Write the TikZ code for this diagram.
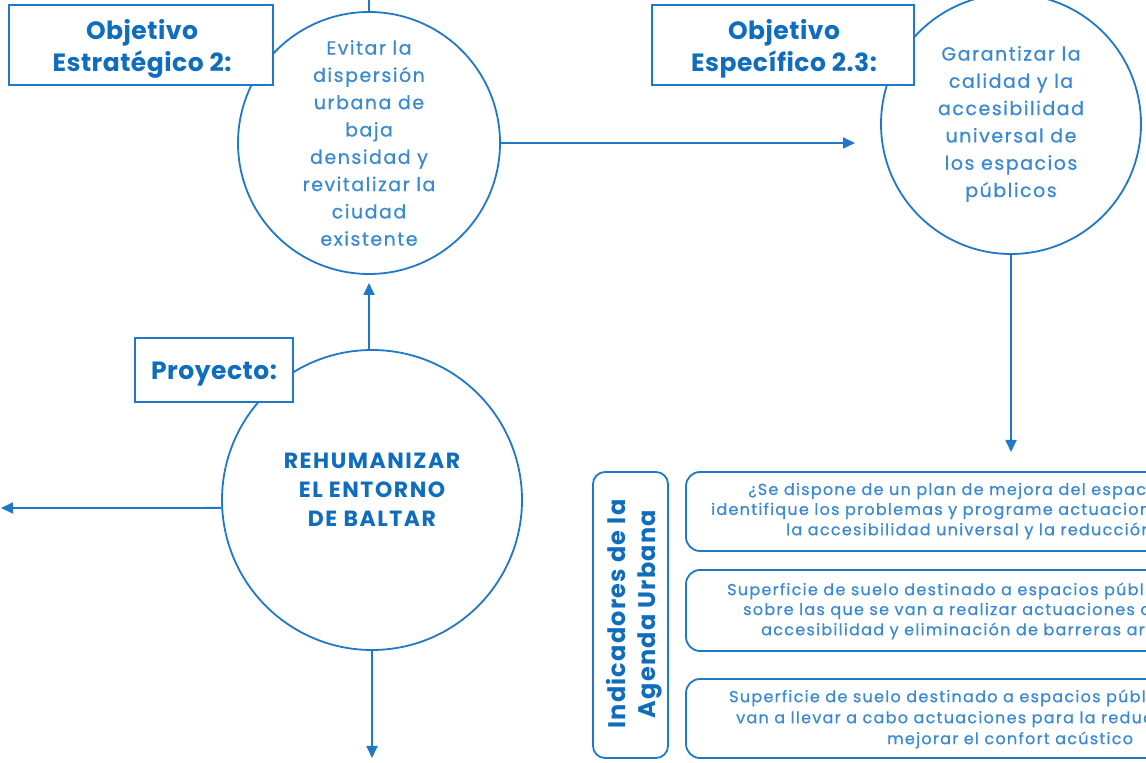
\documentclass[tikz,border=0pt]{standalone}
\usepackage{fontspec}
\setmainfont{Poppins}
\newfontfamily\bodyf{Poppins}[LetterSpace=8,FakeBold=0.6]
\newfontfamily\titlef{Poppins}[LetterSpace=2]
\newfontfamily\capsf{Poppins}[LetterSpace=7]
\newfontfamily\vertf{Poppins}[LetterSpace=5]
\usetikzlibrary{arrows.meta}
\definecolor{lineblue}{HTML}{1F78C8}
\definecolor{textblue}{HTML}{3A8AD2}
\definecolor{titleblue}{HTML}{0F6DBE}
\begin{document}
\begin{tikzpicture}[x=1pt,y=1pt,
  conn/.style={draw=lineblue, line width=1.8pt},
  arr/.style={conn, -{Triangle[length=12pt,width=11pt]}},
  circ/.style={circle, draw=lineblue, line width=1.8pt, fill=white, inner sep=0pt, align=center, text=textblue, font=\bodyf\fontsize{19}{27.3}\selectfont},
  titlebox/.style={rectangle, draw=lineblue, line width=1.8pt, fill=white, inner sep=0pt},
  titletext/.style={align=center, inner sep=0pt, text=titleblue, font=\titlef\bfseries\fontsize{25}{32}\selectfont},
  ibox/.style={rectangle, rounded corners=14pt, draw=lineblue, line width=1.8pt, fill=white, inner sep=0pt},
  itext/.style={anchor=west, inner sep=0pt, text=textblue, font=\bodyf\fontsize{16}{20}\selectfont},
  bigtext/.style={align=center, inner sep=0pt, text=titleblue, font=\capsf\bfseries\fontsize{22}{29}\selectfont},
]
\useasboundingbox (0,0) rectangle (1146,763);
\fill[white] (0,0) rectangle (1146,763);
% circles
\node[circ, minimum size=262pt] (c1) at (369,620) {Evitar la\\dispersión\\urbana de\\baja\\densidad y\\revitalizar la\\ciudad\\existente};
\node[circ, minimum size=260pt] (c2) at (1011,639) {Garantizar la\\calidad y la\\accesibilidad\\universal de\\los espacios\\públicos};
\node[circ, minimum size=300pt] (c3) at (372,263) {};
\node[bigtext] (c3t) at (372,273) {REHUMANIZAR\\EL ENTORNO\\DE BALTAR};
% free ends
\coordinate (topend) at (369,763);
\coordinate (a1end) at (855,620);
\coordinate (a2end) at (1011,311);
\coordinate (a3end) at (369,480);
\coordinate (a4end) at (1,255);
\coordinate (a5end) at (372,5);
% connectors
\draw[conn] (c1.north) -- (topend);
\draw[arr] (c1.east) -- (a1end);
\draw[arr] (c2.south) -- (a2end);
\draw[arr] (c3.north -| a3end) -- (a3end);
\draw[arr] (c3.183) -- (a4end);
\draw[arr] (c3.south) -- (a5end);
% title boxes
\node[titlebox, minimum width=264pt, minimum height=80pt] (t1) at (141,718) {};
\node[titletext] (t1t) at (142,714.5) {Objetivo\\Estratégico 2:};
\node[titlebox, minimum width=262pt, minimum height=80pt] (t2) at (783,718) {};
\node[titletext] (t2t) at (784,714.5) {Objetivo\\Específico 2.3:};
\node[titlebox, minimum width=158pt, minimum height=64pt] (t3) at (214,393) {};
\node[titletext] (t3t) at (214,389) {Proyecto:};
% indicators
\node[ibox, rounded corners=12pt, minimum width=75pt, minimum height=286pt] (vb) at (630.5,148) {};
\node[rotate=90, align=center, inner sep=0pt, text=titleblue, font=\vertf\bfseries\fontsize{24}{30}\selectfont] (vbt) at (634,149) {Indicadores de la\\Agenda Urbana};
\node[ibox, minimum width=648pt, minimum height=79pt] (b1) at (1010,251.5) {};
\node[ibox, minimum width=648pt, minimum height=81pt] (b2) at (1010,152.5) {};
\node[ibox, minimum width=648pt, minimum height=79pt] (b3) at (1010,44.5) {};
\node[itext] (b1a) at (748,272) {¿Se dispone de un plan de mejora del espacio};
\node[itext] (b1b) at (711,252) {identifique los problemas y programe actuaciones};
\node[itext] (b1c) at (786,232) {la accesibilidad universal y la reducción};
\node[itext] (b2a) at (727,172) {Superficie de suelo destinado a espacios públicos};
\node[itext] (b2b) at (743,152) {sobre las que se van a realizar actuaciones de};
\node[itext] (b2c) at (761,132) {accesibilidad y eliminación de barreras arquitectónicas};
\node[itext] (b3a) at (729,65) {Superficie de suelo destinado a espacios públicos};
\node[itext] (b3b) at (736,44) {van a llevar a cabo actuaciones para la reducción};
\node[itext] (b3c) at (887,23) {mejorar el confort acústico};
\end{tikzpicture}
\end{document}
